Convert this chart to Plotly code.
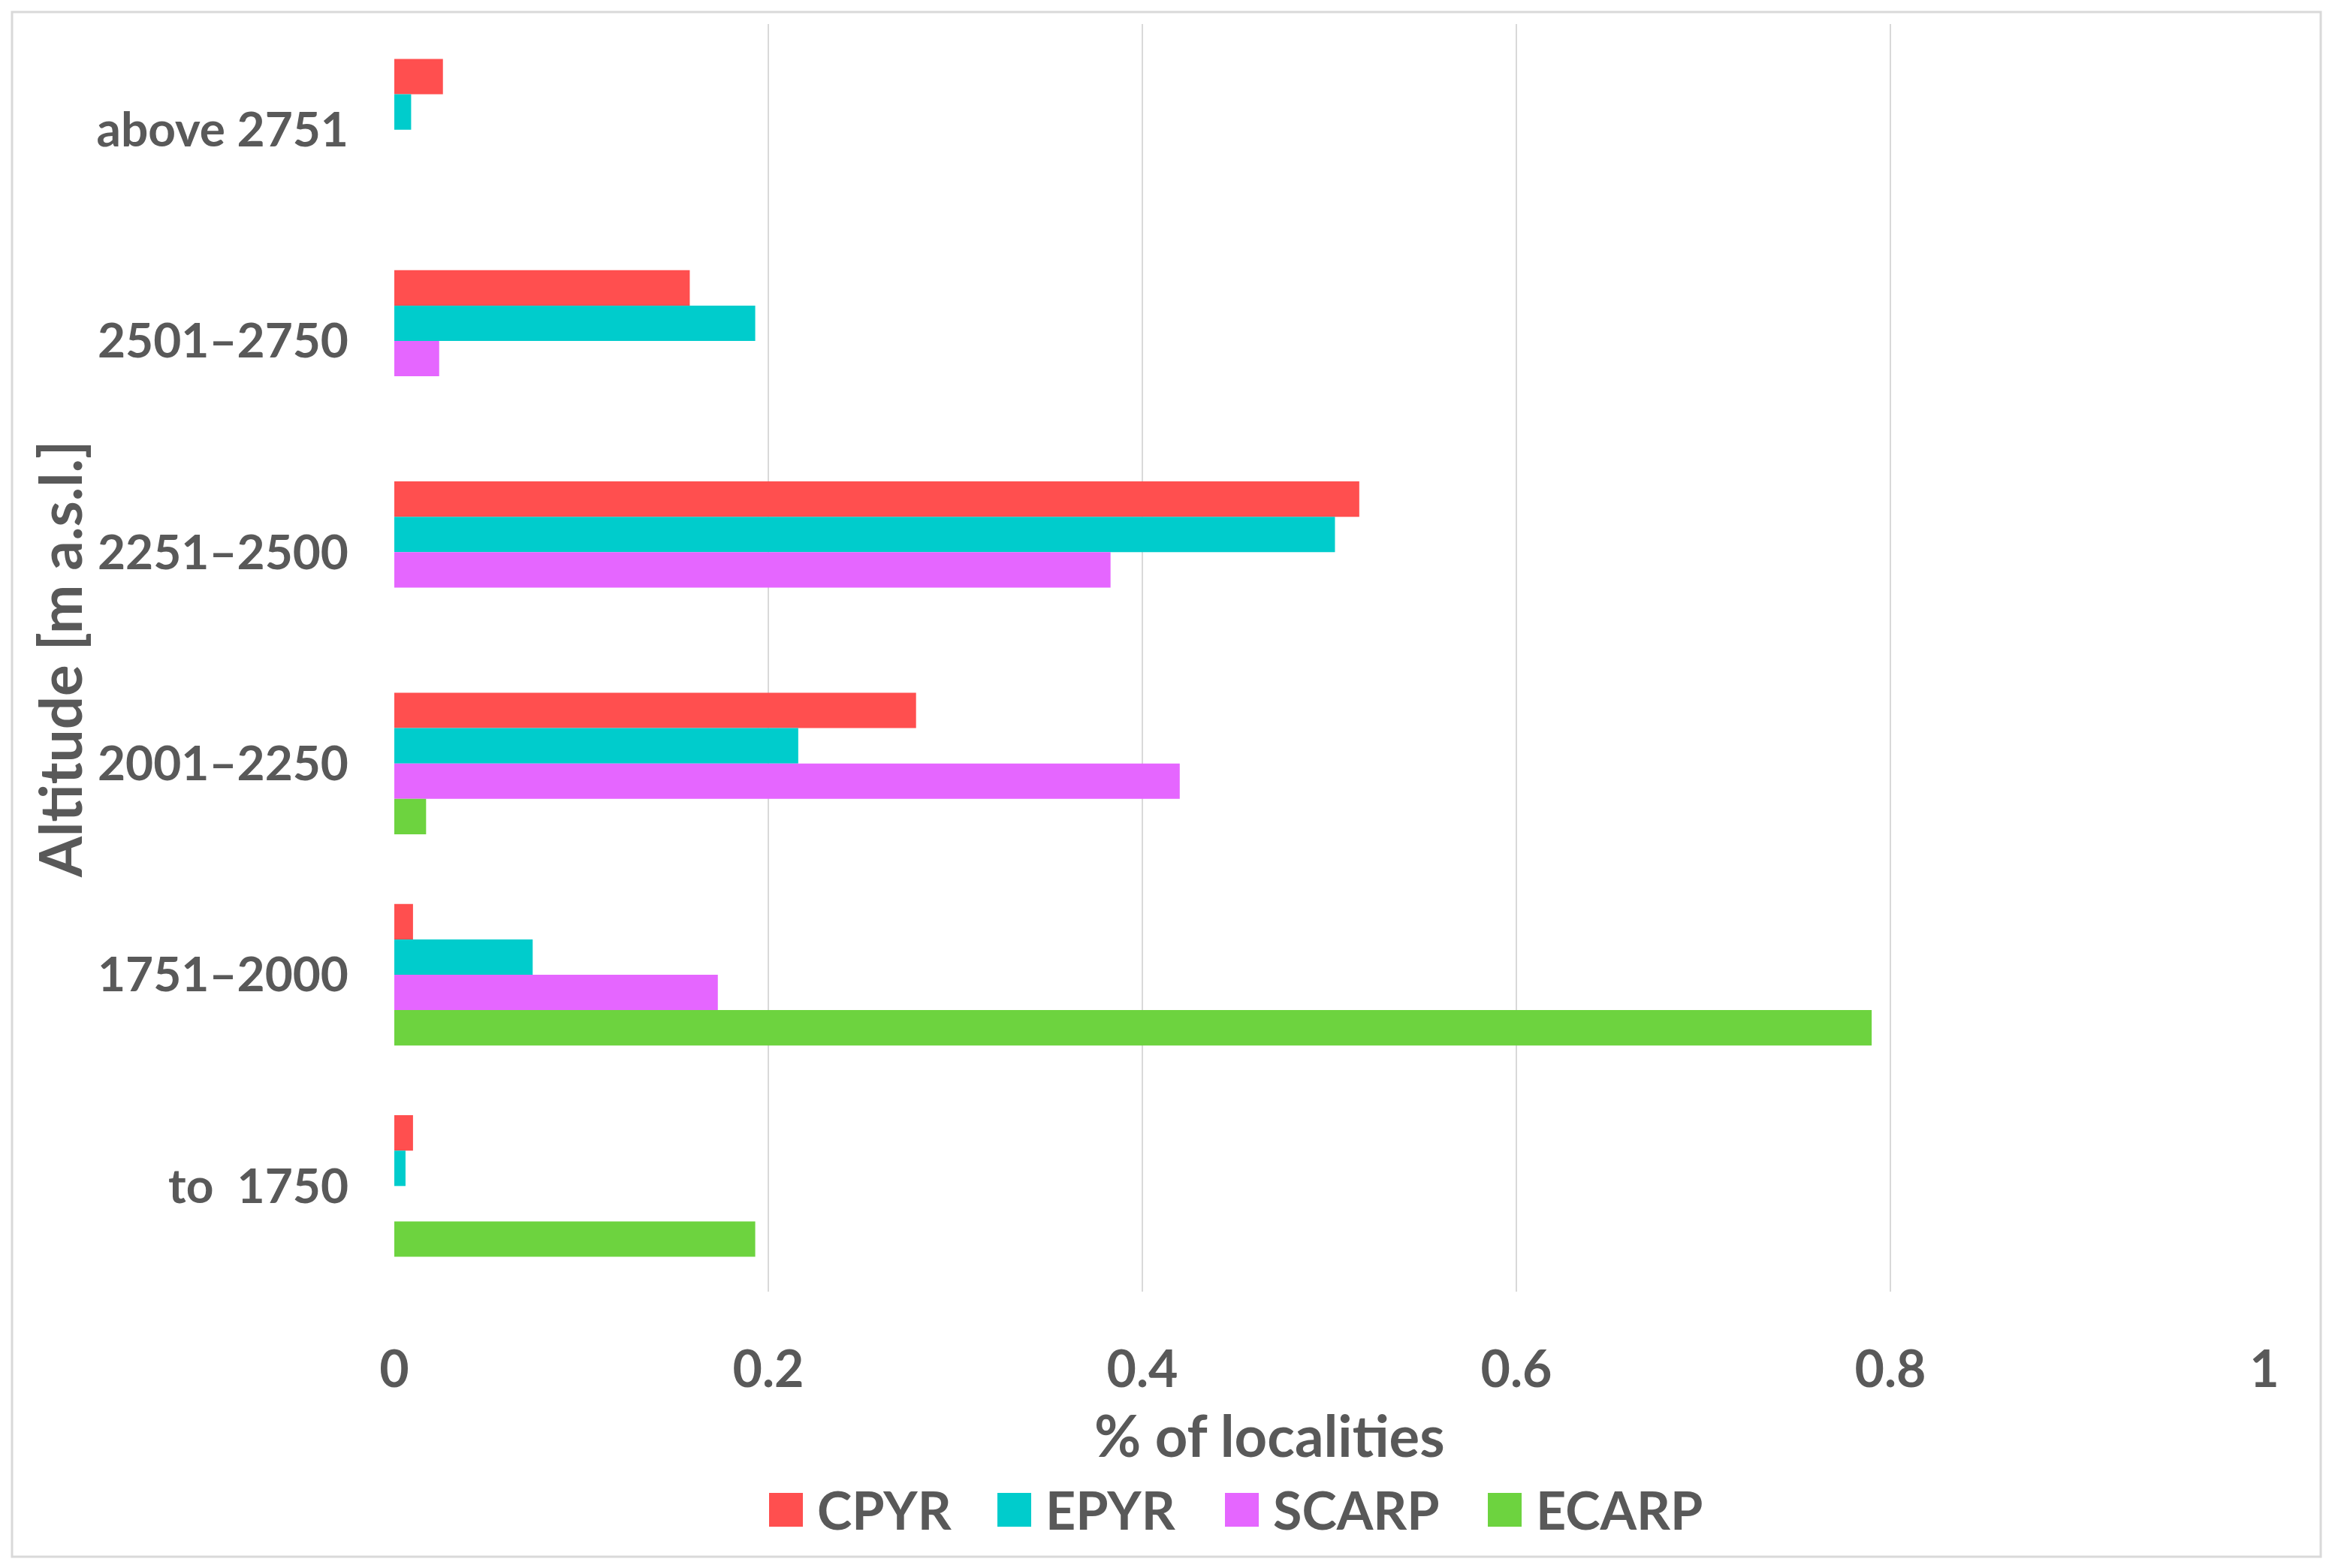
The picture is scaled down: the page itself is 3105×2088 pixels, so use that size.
import plotly.graph_objects as go

# ---- data ----
categories = ["above 2751", "2501–2750", "2251–2500", "2001–2250", "1751–2000", "to \u00a01750"]
series_names = ["CPYR", "EPYR", "SCARP", "ECARP"]
cpyr = [0.026, 0.158, 0.516, 0.279, 0.010, 0.010]
epyr = [0.009, 0.193, 0.503, 0.216, 0.074, 0.006]
scarp = [0.0, 0.024, 0.383, 0.420, 0.173, 0.0]
ecarp = [0.0, 0.0, 0.0, 0.017, 0.790, 0.193]
x_ticks = [0, 0.2, 0.4, 0.6, 0.8, 1]
x_tick_labels = ["0", "0.2", "0.4", "0.6", "0.8", "1"]
x_title = "% of localities"
y_title = "Altitude [m a.s.l.]"

colors = ["#FF4F4F", "#00CCCC", "#E566FF", "#6DD33F"]
values = [cpyr, epyr, scarp, ecarp]

W, H = 3105, 2088
L, R, T, B = 525, 90, 32, 368
PW, PH = W - L - R, H - T - B
FONT = "Lato"
GRAY = "#595959"


def px_x(px):
    return (px - L) / PW


def px_y(py):
    return (H - B - py) / PH


fig = go.Figure()
for name, vals, col in zip(series_names, values, colors):
    fig.add_trace(go.Bar(
        y=categories, x=vals, name=name, orientation="h",
        marker=dict(color=col, line=dict(width=0)),
        showlegend=False,
    ))

fig.update_layout(
    width=W, height=H,
    margin=dict(l=L, r=R, t=T, b=B),
    paper_bgcolor="white", plot_bgcolor="white",
    barmode="group", bargap=0.33, bargroupgap=0,
    font=dict(family=FONT, color=GRAY),
    xaxis=dict(
        range=[0, 1], tickvals=x_ticks, ticktext=x_tick_labels,
        showgrid=True, gridcolor="#D9D9D9", gridwidth=2,
        zeroline=False, showline=False, ticks="",
        tickfont=dict(family=FONT, size=68, color=GRAY, weight="bold"),
        ticklabelstandoff=58,
    ),
    yaxis=dict(
        type="category", categoryorder="array", categoryarray=categories,
        autorange="reversed", showgrid=False, zeroline=False, showline=False,
        ticks="", tickfont=dict(family=FONT, size=64, color=GRAY, weight="bold"),
        ticklabelstandoff=60,
    ),
)

annotations = [
    dict(text=x_title, x=px_x(1690), y=px_y(1910), xref="paper", yref="paper",
         xanchor="center", yanchor="middle", showarrow=False,
         font=dict(family=FONT, size=76, color=GRAY, weight="bold")),
    dict(text=y_title, x=px_x(79), y=px_y(878), xref="paper", yref="paper",
         xanchor="center", yanchor="middle", showarrow=False, textangle=-90,
         font=dict(family=FONT, size=78, color=GRAY, weight="bold")),
]

shapes = [
    dict(type="rect", xref="paper", yref="paper",
         x0=px_x(16), x1=px_x(3090), y0=px_y(2073), y1=px_y(16),
         line=dict(color="#D9D9D9", width=3), fillcolor="rgba(0,0,0,0)", layer="below"),
]

# manual legend (large square swatches like the original)
legend_sq_x = [1024, 1328, 1631, 1981]
for name, col, sx in zip(series_names, colors, legend_sq_x):
    shapes.append(dict(type="rect", xref="paper", yref="paper",
                       x0=px_x(sx), x1=px_x(sx + 45), y0=px_y(2033), y1=px_y(1988),
                       line=dict(width=0), fillcolor=col))
    annotations.append(dict(text=name, x=px_x(sx + 62), y=px_y(2010), xref="paper", yref="paper",
                            xanchor="left", yanchor="middle", showarrow=False,
                            font=dict(family=FONT, size=70, color=GRAY, weight="bold")))

fig.update_layout(annotations=annotations, shapes=shapes)
fig.write_html("out.html", config={"displayModeBar": False},
               post_script="document.body.style.margin='0px';document.body.style.overflow='hidden';")
